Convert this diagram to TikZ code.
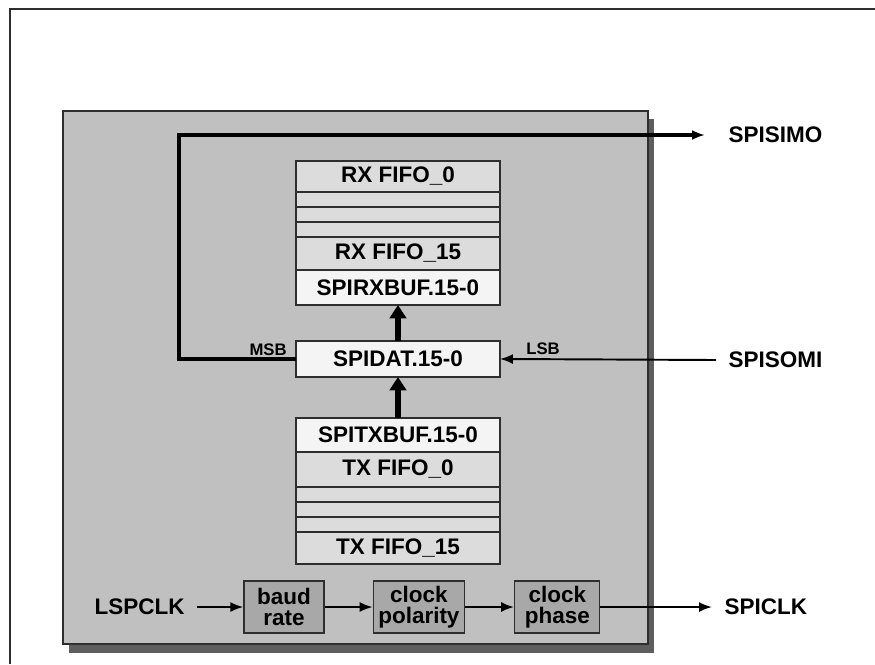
\documentclass[tikz,border=0pt]{standalone}
\usepackage{fontspec}
\setmainfont{Liberation Sans}
\usepackage{tikz}
\usetikzlibrary{positioning,arrows.meta}
\definecolor{cfondo}{HTML}{C0C0C0}
\definecolor{csombra}{HTML}{5E5E5E}
\definecolor{cfifo}{HTML}{DCDCDC}
\definecolor{cbuf}{HTML}{F4F4F4}
\definecolor{creloj}{HTML}{A8A8A8}
\definecolor{cborde}{HTML}{2E2E2E}
\tikzset{
  reg/.style={rectangle, draw=cborde, line width=0.8pt, minimum width=4.08cm,
    inner sep=0pt, outer sep=0pt, font=\bfseries\fontsize{12.8}{14}\selectfont},
  cajafifo/.style={reg, fill=cfifo},
  cajahueco/.style={reg, fill=cfifo, minimum height=0.3cm},
  cajabuf/.style={reg, fill=cbuf},
  cajareloj/.style={rectangle, draw=cborde, fill=creloj, line width=0.8pt,
    minimum height=1.04cm, inner sep=0pt, align=center,
    font=\bfseries\fontsize{12.8}{12.2}\selectfont},
  flecha/.style={-{Latex[length=2.6mm,width=2mm]}, line width=1.1pt},
  flechab/.style={-{Latex[length=2.6mm,width=2mm]}, line width=1.8pt},
  flechag/.style={-{Triangle[length=2.7mm,width=3.3mm]}, line width=3.4pt},
  senal/.style={font=\bfseries\fontsize{12.8}{14}\selectfont, inner xsep=7pt},
  etq/.style={font=\bfseries\fontsize{9.5}{10}\selectfont, inner sep=0pt},
}

\begin{document}
\begin{tikzpicture}[x=0.02cm, y=-0.02cm, node distance=0pt]
  \useasboundingbox (0,0) rectangle (875,664);
  % marco y bloque
  \draw[cborde, line width=0.9pt] (10,664) -- (10,9) -- (875,9);
  \fill[csombra] (69,119) rectangle (654,653);
  \draw[cborde, fill=cfondo, line width=0.8pt] (63,111) rectangle (648,644);

  % pila de recepcion
  \node[cajafifo, minimum height=0.62cm, anchor=north west] (rx0) at (296,161) {RX FIFO\_0};
  \node[cajahueco, below=of rx0] (rxa) {};
  \node[cajahueco, below=of rxa] (rxb) {};
  \node[cajahueco, below=of rxb] (rxc) {};
  \node[cajafifo, minimum height=0.66cm, below=of rxc] (rx15) {RX FIFO\_15};
  \node[cajabuf, minimum height=0.7cm, below=of rx15] (rxbuf) {SPIRXBUF.15-0};

  \node[cajabuf, minimum height=0.72cm, below=0.72cm of rxbuf] (spidat) {SPIDAT.15-0};

  % pila de transmision
  \node[cajabuf, minimum height=0.68cm, below=0.82cm of spidat] (txbuf) {SPITXBUF.15-0};
  \node[cajafifo, minimum height=0.7cm, below=of txbuf] (tx0) {TX FIFO\_0};
  \node[cajahueco, below=of tx0] (txa) {};
  \node[cajahueco, below=of txa] (txb) {};
  \node[cajahueco, below=of txb] (txc) {};
  \node[cajafifo, minimum height=0.64cm, below=of txc] (tx15) {TX FIFO\_15};

  % senales externas
  \node[senal, anchor=west] (spisimo) at (716,135) {SPISIMO};
  \node[senal, anchor=west] (spisomi) at (716,360) {SPISOMI};

  \node[etq, above left=0.06cm and 0.18cm of spidat.west] (msb) {MSB};
  \node[etq, above right=0.08cm and 0.52cm of spidat.east] (lsb) {LSB};

  \draw[flechag] (spidat.north) -- (rxbuf.south);
  \draw[flechag] (txbuf.north) -- (spidat.south);
  \draw[flechab, shorten >=0.22cm] (spidat.west) -- ++(-117,0) |- (spisimo.west);
  \draw[flecha] (spisomi.west) -- (spidat.east);

  % cadena de reloj
  \node[cajareloj, minimum width=1.6cm] (baud) at (284,607) {baud\\rate};
  \node[cajareloj, minimum width=1.82cm, right=0.96cm of baud] (polar) {clock\\polarity};
  \node[cajareloj, minimum width=1.7cm, right=0.98cm of polar] (fase) {clock\\phase};
  \node[senal, left=0.92cm of baud] (lspclk) {LSPCLK};
  \node[senal, anchor=west] (spiclk) at (712,607) {SPICLK};

  \draw[flecha] (lspclk) -- (baud);
  \draw[flecha] (baud) -- (polar);
  \draw[flecha] (polar) -- (fase);
  \draw[flecha] (fase) -- (spiclk.west);
\end{tikzpicture}
\end{document}
